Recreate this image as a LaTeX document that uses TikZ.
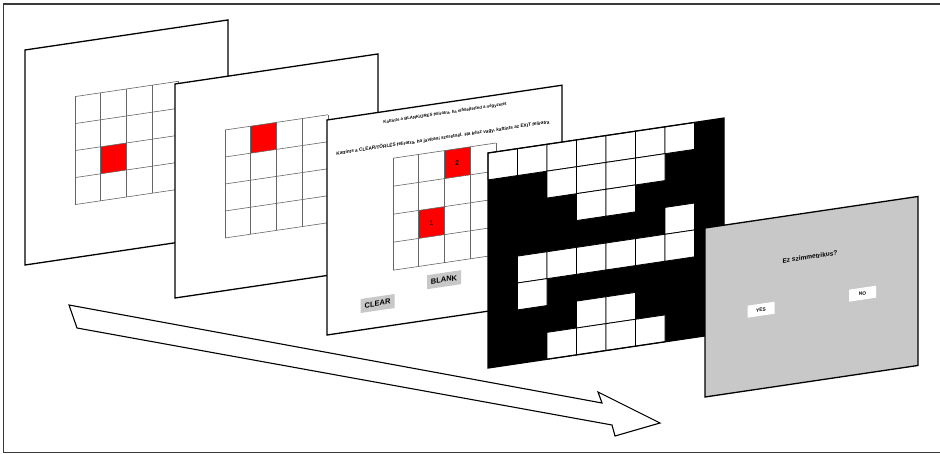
\documentclass[tikz,border=0pt]{standalone}
\usepackage{fontspec}
\setmainfont{Liberation Sans}
\definecolor{scrgray}{HTML}{C8C8C8}
\definecolor{gridgray}{HTML}{666666}
\definecolor{framegray}{HTML}{3A3A3A}

\begin{document}
\begin{tikzpicture}[
    x=1pt, y=-1pt,
    slanted/.style={yslant=0.148},
    panel/.style={draw=black, line width=1.3pt, fill=white},
    cell/.style={draw=gridgray, line width=0.6pt},
    hint/.style={font=\fontsize{4.3}{5}\selectfont\bfseries, transform shape, inner sep=0pt},
    num/.style={font=\fontsize{6.5}{7}\selectfont\bfseries, transform shape, inner sep=0pt},
    button/.style={fill=scrgray, font=\fontsize{7.5}{8}\selectfont\bfseries, transform shape,
                   minimum width=34pt, minimum height=14pt, inner sep=0pt},
    question/.style={font=\fontsize{6.5}{7}\selectfont\bfseries, transform shape, inner sep=0pt},
    answer/.style={fill=white, font=\fontsize{4.8}{5}\selectfont\bfseries, transform shape,
                   minimum width=27pt, minimum height=12pt, inner sep=0pt}
  ]
    \useasboundingbox (0,0) rectangle (940,454);
    \draw[framegray, line width=1.2pt] (945,4) -- (3.5,4) -- (3.5,452.5) -- (945,452.5);

    \draw[line width=1.1pt, fill=white] (69,305) -- (602,403) -- (598,392) -- (660,423)
        -- (615,436) -- (612,425) -- (77,328) -- cycle;

    \begin{scope}[shift={(25,50)}, slanted]
      \draw[panel] (0,0) rectangle (203,215);
      \fill[red] (50+25.7,54+2*27) rectangle ++(25.7,27);
      \foreach \i in {0,...,4} {
        \draw[cell] (50+\i*25.7,54) -- ++(0,108);
        \draw[cell] (50,54+\i*27) -- ++(102.8,0);
      }
    \end{scope}

    \begin{scope}[shift={(175,84)}, slanted]
      \draw[panel] (0,0) rectangle (203,214);
      \fill[red] (50+25.7,53.4) rectangle ++(25.7,27);
      \foreach \i in {0,...,4} {
        \draw[cell] (50+\i*25.7,53.4) -- ++(0,108);
        \draw[cell] (50,53.4+\i*27) -- ++(102.8,0);
      }
    \end{scope}

    \begin{scope}[shift={(327,120)}, slanted]
      \draw[panel] (0,0) rectangle (235,215);
      \node[hint] (hintblank) at (118,10.5) {Kattints a BLANK/ÜRES feliratra, ha elfelejtetted a négyzetet};
      \node[hint, font=\fontsize{4.7}{5}\selectfont\bfseries] (hintclear) at (116,35)
        {Kattints a CLEAR/TÖRLÉS feliratra, ha javítani szeretnél. Ha kész vagy, kattints az EXIT feliratra};
      \fill[red] (66+2*25.7,48) rectangle ++(25.7,28);
      \fill[red] (66+25.7,48+2*28) rectangle ++(25.7,28);
      \foreach \i in {0,...,4} {
        \draw[cell] (66+\i*25.7,48) -- ++(0,112);
        \draw[cell] (66,48+\i*28) -- ++(102.8,0);
      }
      \node[num] (second) at (66+2.5*25.7,48+0.5*28) {2};
      \node[num] (first)  at (66+1.5*25.7,48+2.5*28) {1};
      \node[button] (blank) at (117,177) {BLANK};
      \node[button] (clear) at (50.5,191) {CLEAR};
    \end{scope}

    \begin{scope}[shift={(488,153)}, slanted]
      \fill[black] (0,0) rectangle (236,215);
      \foreach \r/\cols in {0/{0,1,2,3,4,5,6}, 1/{2,3,4,5}, 2/{3,4}, 3/{6},
                            4/{1,2,3,4,5,6}, 5/{1}, 6/{3,4}, 7/{2,3,4,5}}
        \foreach \c in \cols
          \draw[fill=white, line width=0.8pt] (\c*29.5,\r*26.875) rectangle ++(29.5,26.875);
      \draw[line width=1.3pt] (0,0) rectangle (236,215);
    \end{scope}

    \begin{scope}[shift={(705,228)}, slanted]
      \draw[panel, fill=scrgray] (0,0) rectangle (213,169);
      \node[question] (ask) at (105,44.5) {Ez szimmetrikus?};
      \node[answer] (yes) at (56,90) {YES};
      \node[answer] (no)  at (157.5,89) {NO};
    \end{scope}
  \end{tikzpicture}
\end{document}
